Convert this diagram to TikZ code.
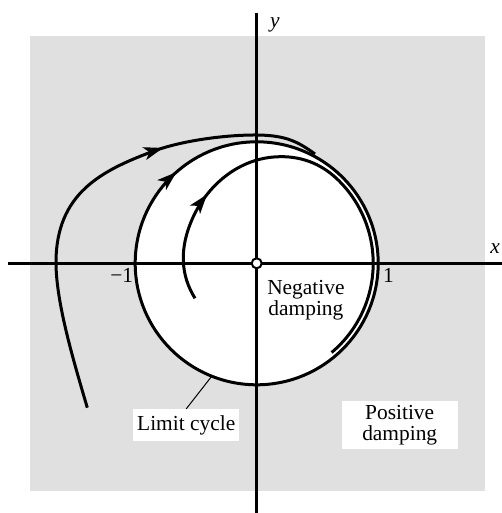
\documentclass[tikz,border=0pt]{standalone}
\usepackage{fontspec}
\setmainfont{Liberation Serif}
\usetikzlibrary{arrows.meta,decorations.markings}
\definecolor{bggray}{gray}{0.88}
\tikzset{
  traj/.style={line width=1.5pt},
  axis/.style={line width=1.3pt},
  midarrow/.style={postaction={decorate},
    decoration={markings,mark=at position #1 with {\arrow[scale=1.6]{Stealth[length=6pt,width=4pt,inset=1.5pt]}}}},
  txt/.style={font=\fontsize{10.7}{10.4}\selectfont,align=center,inner sep=0pt},
  whitebox/.style={txt,fill=white}
}
\begin{document}
\begin{tikzpicture}[x=0.5pt,y=0.5pt]
  \useasboundingbox (-256.7,-249.7) rectangle (245.3,263.3);
  % shaded region of positive damping
  \fill[bggray] (-226.7,-227.4) rectangle (228.3,227.3);
  % limit cycle
  \draw[traj,fill=white,midarrow=0.135] (180:121.5) arc[start angle=180,end angle=-180,radius=121.5];
  % axes
  \draw[axis] (-248.7,0) -- (245.3,0);
  \draw[axis] (0,250.6) -- (0,-249.7);
  \node[txt] (xlab) at (238.3,15) {\textit{x}};
  \node[txt] (ylab) at (18.3,238.3) {\textit{y}};
  \node[txt] (mone) at (-135,-12.5) {−1};
  \node[txt] (pone) at (131.7,-12.5) {1};
  % trajectory starting outside
  \draw[traj,midarrow=0.67] (-169.4,-144.4) .. controls (-183.4,-96.7) and (-200.4,-40) .. (-200.7,0)
    .. controls (-201,70) and (-155,92.6) .. (-104.7,111.6)
    .. controls (-74.7,123) and (-30,128.5) .. (0,128.3)
    .. controls (30,128.1) and (42,121) .. (58.3,109.3);
  % trajectory starting inside
  \draw[traj,midarrow=0.245] (-61.7,-35) .. controls (-76,-12) and (-78,15) .. (-63.4,46.6)
    .. controls (-50.3,75) and (-20,106) .. (23.3,106.6)
    .. controls (48,107) and (67.4,97.4) .. (45:116.5)
    arc[start angle=45,end angle=-50,radius=116.5];
  % origin
  \node[circle,draw,fill=white,line width=1pt,minimum size=5pt,inner sep=0pt] (o) at (0,0) {};
  % labels
  \node[txt] (neg) at (49.2,-36.7) {Negative\\damping};
  \node[whitebox,minimum width=52.9pt,minimum height=15.7pt] (lc) at (-70.5,-161.7) {Limit cycle};
  \node[whitebox,minimum width=58pt,minimum height=24.2pt] (pos) at (143,-161.9) {Positive\\damping};
  \coordinate (lctouch) at (248.3:121.5);
  \draw[line width=0.5pt] (lc.north) -- (lctouch);
\end{tikzpicture}
\end{document}
